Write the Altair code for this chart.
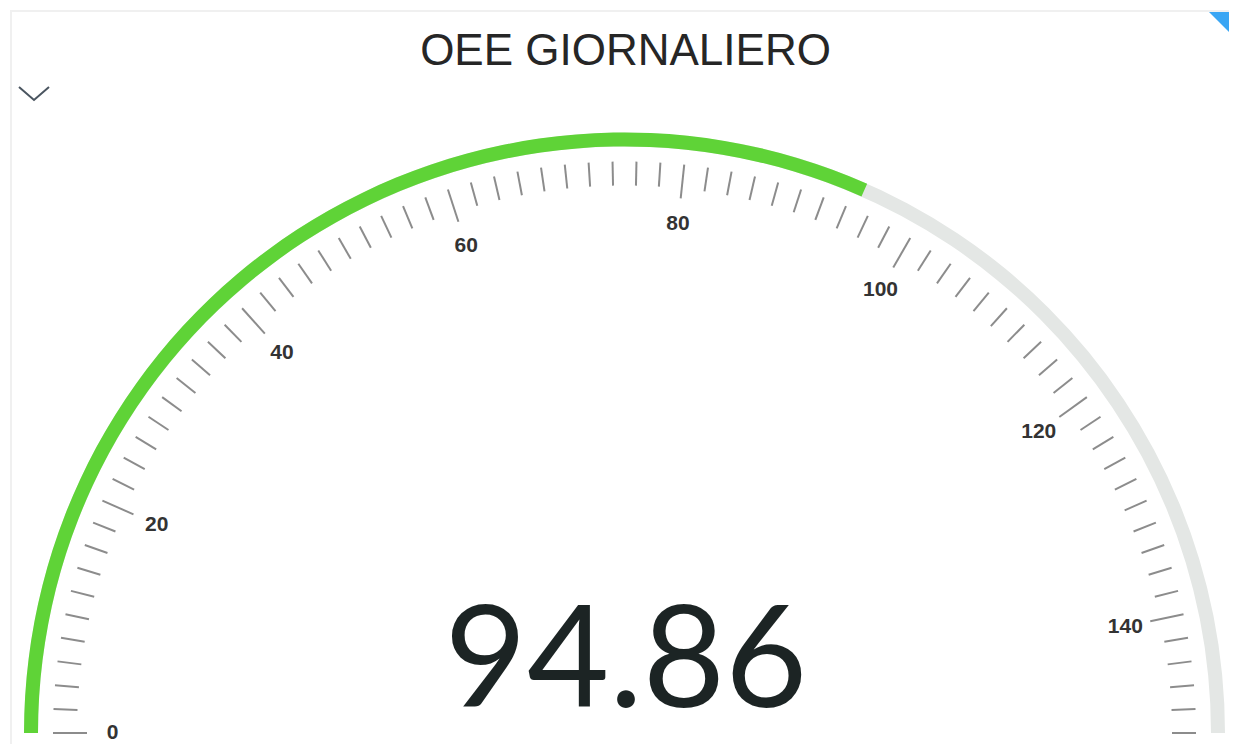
import math
import altair as alt
import pandas as pd

# ---- data ----
TITLE = "OEE GIORNALIERO"
VALUE = 94.86
VALUE_LABEL = "94.86"
GAUGE_MIN = 0
GAUGE_MAX = 150
TICK_VALUES = list(range(0, 151, 2))
MAJOR_LABELS = [0, 20, 40, 60, 80, 100, 120, 140]

# ---- layout (pixels inside the chart) ----
W, H = 1221, 736
CX, CY = 616.5, 725.0
R_ARC_OUT, R_ARC_IN = 600.5, 586.5
R_TICK_OUT, R_MAJOR_IN, R_MINOR_IN = 571.5, 537.5, 547.5
R_LABEL = 512


def ang(v):
    return math.pi * (1 - (v - GAUGE_MIN) / (GAUGE_MAX - GAUGE_MIN))


def theta(v):
    return -math.pi / 2 + math.pi * (v - GAUGE_MIN) / (GAUGE_MAX - GAUGE_MIN)


arc_df = pd.DataFrame({
    "part": ["track", "value"],
    "start": [GAUGE_MIN, GAUGE_MIN],
    "end": [GAUGE_MAX, VALUE],
})
arc_df["t0"] = arc_df["start"].map(theta)
arc_df["t1"] = arc_df["end"].map(theta)

tick_df = pd.DataFrame({"v": TICK_VALUES})
tick_df["major"] = tick_df["v"].isin(MAJOR_LABELS)
tick_df["rin"] = tick_df["major"].map({True: R_MAJOR_IN, False: R_MINOR_IN})
tick_df["a"] = tick_df["v"].map(ang)
tick_df["x1"] = CX + tick_df["rin"] * tick_df["a"].map(math.cos)
tick_df["y1"] = CY - tick_df["rin"] * tick_df["a"].map(math.sin)
tick_df["x2"] = CX + R_TICK_OUT * tick_df["a"].map(math.cos)
tick_df["y2"] = CY - R_TICK_OUT * tick_df["a"].map(math.sin)

lab_df = pd.DataFrame({"v": MAJOR_LABELS})
lab_df["a"] = lab_df["v"].map(ang)
lab_df["x"] = CX + R_LABEL * lab_df["a"].map(math.cos)
lab_df["y"] = CY - R_LABEL * lab_df["a"].map(math.sin)
lab_df["txt"] = lab_df["v"].astype(str)

arcs = alt.Chart(arc_df).mark_arc(radius=R_ARC_OUT, radius2=R_ARC_IN).encode(
    theta=alt.Theta("t0:Q", scale=None, stack=None),
    theta2=alt.Theta2("t1:Q"),
    x=alt.value(CX),
    y=alt.value(CY),
    color=alt.Color("part:N", scale=alt.Scale(domain=["track", "value"],
                                              range=["#e4e7e5", "#5fd337"]),
                    legend=None),
    order=alt.Order("end:Q", sort="descending"),
)

ticks = alt.Chart(tick_df).mark_rule(color="#8c8c8c", strokeWidth=2).encode(
    x=alt.X("x1:Q", scale=None), y=alt.Y("y1:Q", scale=None),
    x2="x2:Q", y2="y2:Q",
)

labels = alt.Chart(lab_df).mark_text(
    font="Liberation Sans", fontSize=21, fontWeight="bold", color="#333333",
    align="center", baseline="middle",
).encode(x=alt.X("x:Q", scale=None), y=alt.Y("y:Q", scale=None), text="txt:N")

big = alt.Chart(pd.DataFrame({"t": [VALUE_LABEL]})).mark_text(
    font="Lato", fontSize=142, fontWeight="normal", color="#1c2424",
    align="center", baseline="alphabetic",
).encode(x=alt.value(CX + 1.5), y=alt.value(699), text="t:N")

title = alt.Chart(pd.DataFrame({"t": [TITLE]})).mark_text(
    font="Liberation Sans", fontSize=44, color="#262626",
    align="center", baseline="alphabetic",
).encode(x=alt.value(CX + 1), y=alt.value(57), text="t:N")

# decorations: panel frame, dropdown chevron, corner marker
frame_top = alt.Chart(pd.DataFrame({"a": [0]})).mark_rule(
    color="#f0f0f0", strokeWidth=2).encode(
    x=alt.value(2), x2=alt.value(W), y=alt.value(3))
frame_left = alt.Chart(pd.DataFrame({"a": [0]})).mark_rule(
    color="#f0f0f0", strokeWidth=2).encode(
    x=alt.value(3), y=alt.value(3), y2=alt.value(H))

chev_df = pd.DataFrame({"i": [0, 1, 2], "px": [11, 26, 41], "py": [79, 92, 79]})
chevron = alt.Chart(chev_df).mark_line(color="#4a5560", strokeWidth=2).encode(
    x=alt.X("px:Q", scale=None), y=alt.Y("py:Q", scale=None), order="i:Q")

corner = alt.Chart(pd.DataFrame({"a": [0]})).mark_point(
    shape="M-1,-1 L1,-1 L1,1 Z", size=784, filled=True, opacity=1,
    color="#3aa6f4", strokeWidth=0,
).encode(x=alt.value(1215), y=alt.value(18))

chart = alt.layer(
    frame_top, frame_left, arcs, ticks, labels, big, title, chevron, corner
).properties(
    width=W, height=H, padding=0, autosize=alt.AutoSizeParams(type="none"),
    background="white",
).configure_view(stroke=None)

chart.save("out.html", embed_options={"renderer": "svg", "actions": False})
